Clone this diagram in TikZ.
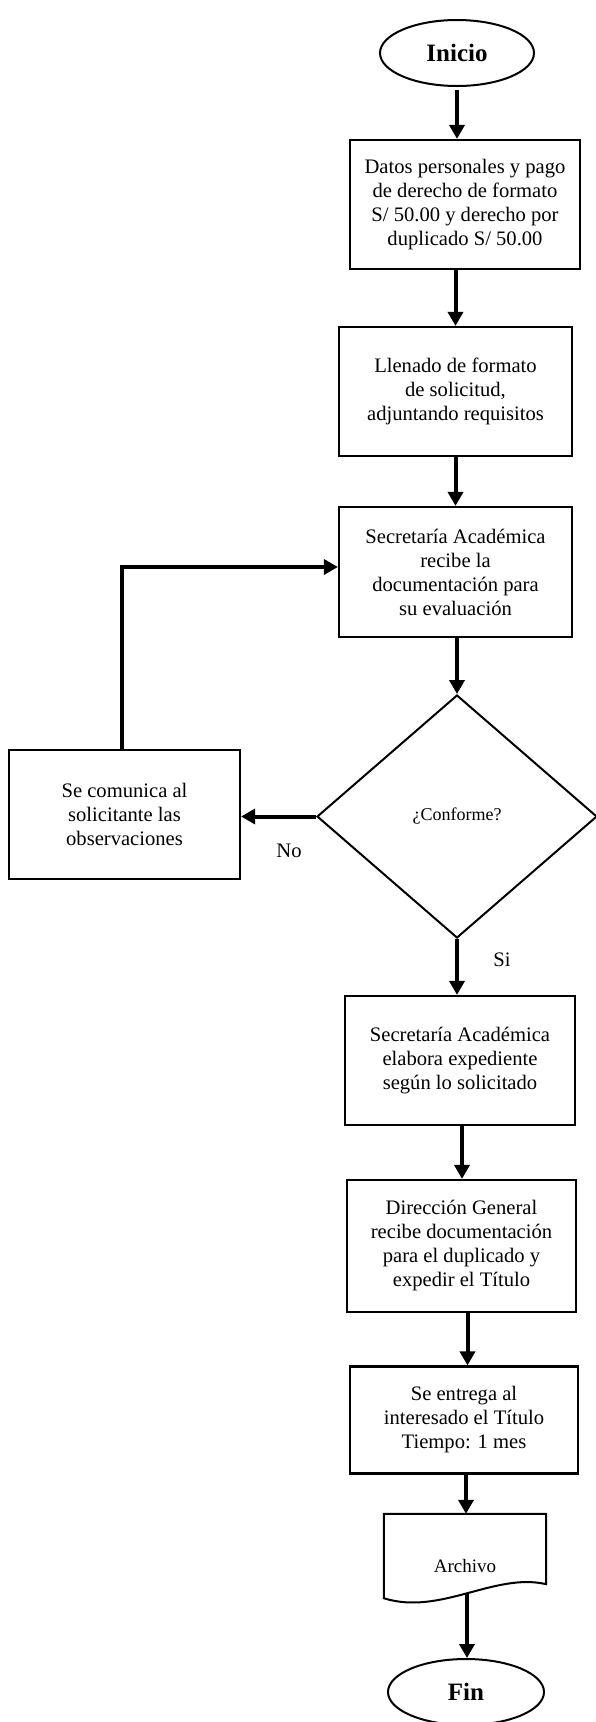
\documentclass[tikz,border=0pt]{standalone}
\usepackage{fontspec}
\setmainfont{Liberation Serif}
\usetikzlibrary{shapes.geometric,arrows.meta,calc}
\begin{document}
\begin{tikzpicture}[x=1pt,y=-1pt,
  box/.style={draw,line width=2.2pt,rectangle,align=center,inner sep=0pt,font=\fontsize{20.6}{24}\selectfont},
  term/.style={draw,line width=2pt,ellipse,inner sep=0pt,font=\fontsize{25}{28}\selectfont\bfseries},
  arr/.style={line width=4pt,-{Triangle[length=14pt,width=15pt]}},
  lbl/.style={font=\fontsize{20.6}{24}\selectfont}]
\useasboundingbox (0,0) rectangle (596,1722);
\node[term,minimum width=154pt,minimum height=66pt] (ini) at (457,53) {Inicio};
\node[box,minimum width=230pt,minimum height=129pt] (b1) at (465,204.5) {Datos personales y pago\\de derecho de formato\\S/ 50.00 y derecho por\\duplicado S/ 50.00};
\node[box,minimum width=233pt,minimum height=129pt] (b2) at (455.5,391.5) {Llenado de formato\\de solicitud,\\adjuntando requisitos};
\node[box,minimum width=233pt,minimum height=130pt] (b3) at (455.5,572) {Secretaría Académica\\recibe la\\documentación para\\su evaluación};
\node[draw,diamond,line width=2pt,minimum width=280pt,minimum height=243pt,inner sep=0pt,font=\fontsize{18}{20}\selectfont] (dec) at (457,816.5) {¿Conforme?};
\node[box,minimum width=231pt,minimum height=129pt] (obs) at (124.5,814.5) {Se comunica al\\solicitante las\\observaciones};
\node[box,minimum width=230pt,minimum height=129pt] (b5) at (460,1060.5) {Secretaría Académica\\elabora expediente\\según lo solicitado};
\node[box,minimum width=229pt,minimum height=132pt] (b6) at (461.5,1246) {Dirección General\\recibe documentación\\para el duplicado y\\expedir el Título};
\node[box,minimum width=228pt,minimum height=107pt] (b7) at (464,1420) {Se entrega al\\interesado el Título\\Tiempo: 1 mes};
\node[inner sep=0pt,minimum width=162pt,minimum height=86pt,text height=31pt,font=\fontsize{19}{22}\selectfont] (arch) at (465,1557) {Archivo};
\draw[line width=2pt] (arch.north west) -- (arch.north east) -- ([yshift=16pt]arch.south east)
  .. controls (495,1572) and (440,1616) .. ([yshift=2pt]arch.south west) -- cycle;
\node[term,minimum width=156pt,minimum height=66pt] (fin) at (466,1692) {Fin};
\node[lbl] (no) at (289,851) {No};
\node[lbl] (si) at (502,960) {Si};
\draw[arr,shorten <=3pt] (ini.south) -- (ini.south |- b1.north);
\draw[arr] (b2.north |- b1.south) -- (b2.north);
\draw[arr] (b2.south) -- (b3.north);
\draw[arr] (b3.south -| dec.north) -- (dec.north);
\draw[arr] (dec.west) -- (obs.east |- dec.west);
\draw[arr] ([xshift=-3pt]obs.north) |- ([yshift=5pt]b3.west);
\draw[arr] (dec.south) -- (dec.south |- b5.north);
\draw[arr] ([xshift=2pt]b5.south) -- ([xshift=2pt]b5.south |- b6.north);
\draw[arr] ([xshift=6pt]b6.south) -- ([xshift=6pt]b6.south |- b7.north);
\draw[arr] ([xshift=2pt]b7.south) -- ([xshift=2pt]b7.south |- arch.north);
\draw[arr] ([xshift=2pt,yshift=7pt]arch.south) -- ([xshift=2pt]arch.south |- fin.north);
\end{tikzpicture}
\end{document}
